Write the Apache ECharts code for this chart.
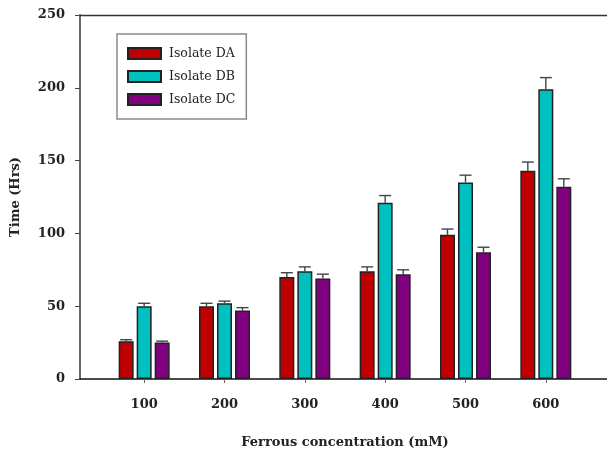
<!DOCTYPE html>
<html>
<head>
<meta charset="utf-8">
<script src="https://cdn.jsdelivr.net/npm/echarts@6/dist/echarts.min.js"></script>
<style>html,body{margin:0;padding:0;background:#fff}#c{width:607px;height:450px}</style>
</head>
<body>
<div id="c"></div>
<script>
const categories = ['100', '200', '300', '400', '500', '600'];
const seriesNames = ['Isolate DA', 'Isolate DB', 'Isolate DC'];
const valuesDA = [26, 50, 70, 74, 99, 143];
const valuesDB = [50, 52, 74, 121, 135, 199];
const valuesDC = [25, 47, 69, 72, 87, 132];
const errDA = [1, 2, 3, 3, 4, 6];
const errDB = [2, 1.5, 3, 5, 5, 8];
const errDC = [1, 2, 3, 3, 3.5, 5.5];
const yTicks = [0, 50, 100, 150, 200, 250];

const colors = ['#C00000', '#00C0C0', '#800080'];
const FONT = 'DejaVu Serif';
const BAR_W = 15, PITCH = 18;
const allValues = [valuesDA, valuesDB, valuesDC];
const allErr = [errDA, errDB, errDC];

const chart = echarts.init(document.getElementById('c'), null, {renderer: 'canvas'});

const barSeries = allValues.map((vals, i) => ({
  name: seriesNames[i],
  type: 'bar',
  xAxisIndex: 0, yAxisIndex: 0,
  data: vals,
  barWidth: BAR_W,
  barGap: ((PITCH - BAR_W) / BAR_W * 100) + '%',
  itemStyle: {color: colors[i], borderColor: '#222', borderWidth: 1.5},
  emphasis: {disabled: true},
  z: 2
}));

const errSeries = allValues.map((vals, i) => ({
  type: 'custom',
  xAxisIndex: 0, yAxisIndex: 0,
  data: vals.map((v, j) => [j, v, allErr[i][j]]),
  encode: {x: 0, y: 1},
  z: 3,
  silent: true,
  renderItem: function (params, api) {
    const off = (i - 1) * PITCH;
    const base = api.coord([api.value(0), api.value(1)]);
    const top = api.coord([api.value(0), api.value(1) + api.value(2)]);
    const x = base[0] + off;
    const st = {stroke: '#444', lineWidth: 1.4};
    return {
      type: 'group',
      children: [
        {type: 'line', shape: {x1: x, y1: base[1], x2: x, y2: top[1]}, style: st},
        {type: 'line', shape: {x1: x - 6, y1: top[1], x2: x + 6, y2: top[1]}, style: st}
      ]
    };
  }
}));

const option = {
  animation: false,
  backgroundColor: '#fff',
  grid: [
    {left: 104, right: 21, top: 15, bottom: 71, outerBoundsMode: 'none', containLabel: false},
    {left: 80, right: -5, top: 15, bottom: 71, outerBoundsMode: 'none', containLabel: false}
  ],
  legend: {
    data: seriesNames,
    orient: 'vertical',
    left: 117, top: 34,
    itemWidth: 33, itemHeight: 11, itemGap: 10,
    padding: [13, 11, 13, 10],
    borderColor: '#8a8a8a', borderWidth: 1.5,
    icon: 'rect',
    textStyle: {fontFamily: FONT, fontSize: 12.5, color: '#222', padding: [0, 0, 0, 3]},
    selectedMode: false
  },
  xAxis: [
    {
      type: 'category', gridIndex: 0, data: categories,
      axisLine: {show: false},
      axisTick: {show: true, alignWithLabel: true, length: 4, lineStyle: {color: '#666'}},
      axisLabel: {fontFamily: FONT, fontWeight: 'bold', fontSize: 13, color: '#222', margin: 19},
      name: 'Ferrous concentration (mM)', nameLocation: 'middle', nameGap: 57,
      nameTextStyle: {fontFamily: FONT, fontWeight: 'bold', fontSize: 13, color: '#222'}
    },
    {
      type: 'value', gridIndex: 1, position: 'bottom', min: 0, max: 1,
      axisLine: {show: true, lineStyle: {color: '#111', width: 1.5}},
      axisTick: {show: false}, axisLabel: {show: false}, splitLine: {show: false}
    },
    {
      type: 'value', gridIndex: 1, position: 'top', min: 0, max: 1,
      axisLine: {show: true, lineStyle: {color: '#333', width: 1.3}},
      axisTick: {show: false}, axisLabel: {show: false}, splitLine: {show: false}
    }
  ],
  yAxis: [
    {
      type: 'value', gridIndex: 0, min: yTicks[0], max: yTicks[yTicks.length - 1], interval: 50,
      show: false
    },
    {
      type: 'value', gridIndex: 1, min: yTicks[0], max: yTicks[yTicks.length - 1], interval: yTicks[1] - yTicks[0],
      axisLine: {show: true, lineStyle: {color: '#6a6a6a', width: 2}},
      axisTick: {show: true, inside: false, length: 5, lineStyle: {color: '#444'}},
      axisLabel: {fontFamily: FONT, fontWeight: 'bold', fontSize: 13, color: '#222', margin: 15},
      splitLine: {show: false},
      name: 'Time (Hrs)', nameLocation: 'middle', nameGap: 58,
      nameTextStyle: {fontFamily: FONT, fontWeight: 'bold', fontSize: 13, color: '#222'}
    }
  ],
  series: barSeries.concat(errSeries)
};
chart.setOption(option);
</script>
</body>
</html>
